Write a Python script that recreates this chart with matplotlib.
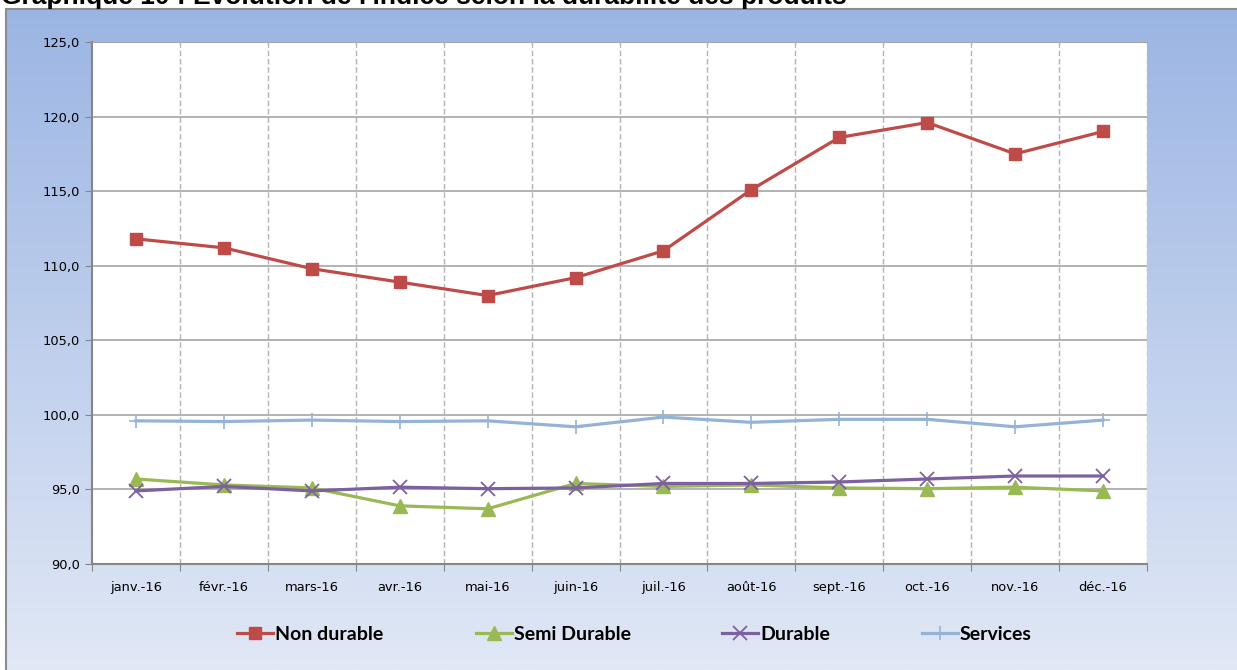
import matplotlib
matplotlib.use('Agg')
import matplotlib.pyplot as plt
import numpy as np
from matplotlib.ticker import FuncFormatter

months = ['janv.-16', 'févr.-16', 'mars-16', 'avr.-16', 'mai-16', 'juin-16',
          'juil.-16', 'août-16', 'sept.-16', 'oct.-16', 'nov.-16', 'déc.-16']
non_durable = [111.8, 111.2, 109.8, 108.9, 108.0, 109.2, 111.0, 115.1, 118.6, 119.6, 117.5, 119.0]
semi_durable = [95.7, 95.3, 95.1, 93.9, 93.7, 95.4, 95.2, 95.3, 95.1, 95.05, 95.15, 94.9]
durable = [94.9, 95.2, 94.9, 95.15, 95.05, 95.1, 95.4, 95.4, 95.5, 95.7, 95.9, 95.9]
services = [99.6, 99.55, 99.65, 99.55, 99.6, 99.2, 99.85, 99.5, 99.7, 99.7, 99.2, 99.65]

W, H = 1237, 670
fig = plt.figure(figsize=(W / 100, H / 100), dpi=100)
fig.patch.set_facecolor('white')

# gradient chart area background
bg = fig.add_axes([6 / W, 0, 1 - 6 / W, 1 - 9 / H], zorder=-10)
top_c = np.array([155, 181, 227]) / 255
bot_c = np.array([225, 232, 246]) / 255
t = np.linspace(0, 1, 256)[:, None]
grad = (top_c * (1 - t) + bot_c * t)[:, None, :]
bg.imshow(grad, aspect='auto', extent=[0, 1, 0, 1])
bg.set_xticks([])
bg.set_yticks([])
for side in ['right', 'bottom']:
    bg.spines[side].set_visible(False)
for side in ['left', 'top']:
    bg.spines[side].set_color('#8c8c8c')
    bg.spines[side].set_linewidth(1.5)

# title, cut at the top edge as in the source image
fig.text(1 / W, 1 - 4 / H, "Graphique 10 : Evolution de l'indice selon la durabilité des produits",
         family='Liberation Sans', weight='bold', fontsize=19, ha='left', va='baseline')

ax = fig.add_axes([92 / W, 1 - 564 / H, (1147 - 92) / W, (564 - 42) / H])
ax.set_facecolor('white')
x = np.arange(len(months)) + 0.5

ax.plot(x, non_durable, color='#BE4B48', lw=2.3, marker='s', ms=8.5, label='Non durable', zorder=3)
ax.plot(x, semi_durable, color='#98B954', lw=2.3, marker='^', ms=9.5, label='Semi Durable', zorder=4)
ax.plot(x, durable, color='#7D60A0', lw=2.3, marker='x', ms=10, mew=1.3, label='Durable', zorder=5)
ax.plot(x, services, color='#95B3D7', lw=2.3, marker='+', ms=10, mew=1.2, label='Services', zorder=6)

ax.set_xlim(0, 12)
ax.set_ylim(90, 125)
ax.set_yticks(np.arange(90, 126, 5))
ax.yaxis.set_major_formatter(FuncFormatter(lambda v, p: f'{v:.1f}'.replace('.', ',')))
ax.set_xticks(np.arange(0, 13))
ax.set_xticklabels([])
ax.set_xticks(x, minor=True)
ax.set_xticklabels(months, minor=True)
ax.tick_params(axis='x', which='minor', length=0, pad=12, labelsize=9.4)
ax.tick_params(axis='x', which='major', length=5, color='#868686', direction='out')
ax.tick_params(axis='y', length=5, color='#868686', direction='out', labelsize=9.4, pad=4)

ax.grid(axis='y', color='#a6a6a6', lw=1.2, zorder=0)
for b in range(1, 13):
    ax.axvline(b, color='#b4b4b4', lw=1, ls=(0, (4, 2)), zorder=0)
ax.set_axisbelow(True)
for side in ['left', 'bottom']:
    ax.spines[side].set_color('#868686')
    ax.spines[side].set_linewidth(1.5)
ax.spines['right'].set_visible(False)
ax.spines['top'].set_color('#a6a6a6')

# legend entries placed like the original
handles = ax.get_lines()[:4]
starts = [237, 476, 722, 922]
for h, s in zip(handles, starts):
    fig.legend([h], [h.get_label()], loc='center left', bbox_to_anchor=(s / W, 1 - 634 / H),
               frameon=False, handlelength=1.85, handletextpad=0.1, borderaxespad=0, borderpad=0,
               prop={'family': 'Lato', 'weight': 'bold', 'size': 14})

fig.savefig('out.png', dpi=100)
